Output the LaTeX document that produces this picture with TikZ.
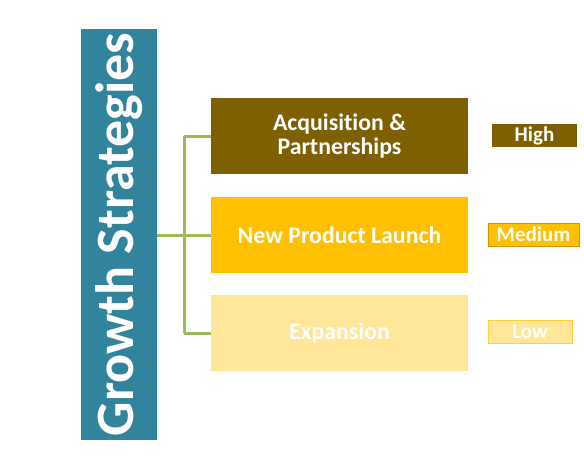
\documentclass[tikz,border=0pt]{standalone}
\usepackage{fontspec}
\setmainfont[Ligatures=NoCommon]{Carlito}
\definecolor{tealbox}{HTML}{31849B}
\definecolor{olivebox}{HTML}{7F6000}
\definecolor{goldbox}{HTML}{FFC000}
\definecolor{palebox}{HTML}{FFE699}
\definecolor{branch}{HTML}{9BBB59}
\tikzset{
  stratbox/.style={rectangle, minimum width=128.5pt, minimum height=38pt,
    inner sep=0pt, text=white, font=\bfseries\fontsize{11.9}{12}\selectfont,
    align=center},
  tagbox/.style={rectangle, minimum height=11.5pt, inner sep=0pt,
    text=white, font=\bfseries\fontsize{10.5}{12}\selectfont},
  link/.style={draw=branch, line width=1.5pt}
}
\begin{document}
\begin{tikzpicture}[x=0.5pt, y=-0.5pt]
  \useasboundingbox (0,0) rectangle (584,471);
  % Barra principal
  \node[rectangle, fill=tealbox, minimum width=38pt, minimum height=205.5pt,
    inner sep=0pt] (main) at (119,234.5) {};
  \node[rotate=90, text=white, font=\bfseries\fontsize{27}{30}\selectfont]
    (maintitle) at (main.center) {Growth Strategies};
  % Cajas de estrategia
  \node[stratbox, fill=olivebox] (acq) at (339.5,136) {Acquisition \&\\Partnerships};
  \node[stratbox, fill=goldbox] (launch) at (339.5,235) {New Product Launch};
  \node[stratbox, fill=palebox] (expan) at (339.5,333) {Expansion};
  % Etiquetas de prioridad
  \node[tagbox, fill=olivebox, minimum width=42.5pt] (high) at (534.5,135.5) {High};
  \node[tagbox, fill=goldbox, draw=goldbox!80!black, line width=0.3pt,
    minimum width=45.5pt] (medium) at (533.5,234.5) {Medium};
  \node[tagbox, fill=palebox, draw=goldbox!60!palebox, line width=0.3pt,
    minimum width=42pt] (low) at (530,331.5) {Low};
  % Conectores
  \coordinate (jn) at (184,235);
  \draw[link] (main.east |- jn) -- (jn);
  \draw[link] (jn |- acq.west) -- (jn |- expan.west);
  \draw[link] (jn |- acq.west) -- (acq.west);
  \draw[link] (jn) -- (launch.west);
  \draw[link] (jn |- expan.west) -- (expan.west);
\end{tikzpicture}
\end{document}
